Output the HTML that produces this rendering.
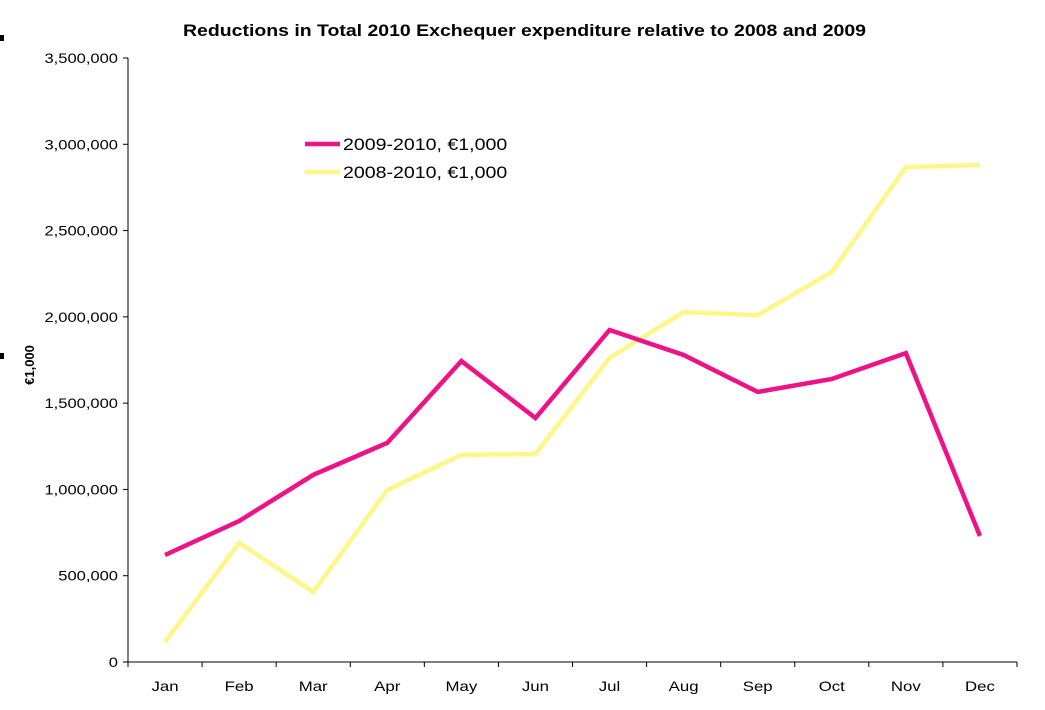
<!DOCTYPE html>
<html><head><meta charset="utf-8"><style>
html,body{margin:0;padding:0;background:#fff;}
svg{display:block;font-family:"Liberation Sans",Arial,sans-serif;}
</style></head><body>
<svg id="chart" width="1045" height="710" viewBox="0 0 1045 710" xmlns="http://www.w3.org/2000/svg">
<rect x="0" y="35" width="4" height="6" fill="#000"/>
<rect x="0" y="353" width="4" height="6" fill="#000"/>
<text x="183" y="36" font-size="17" font-weight="bold" textLength="683" lengthAdjust="spacingAndGlyphs">Reductions in Total 2010 Exchequer expenditure relative to 2008 and 2009</text>
<text transform="translate(34,365) rotate(-90)" text-anchor="middle" font-size="13" font-weight="bold">€1,000</text>
<g id="axes"></g>
<g id="series"></g>
<g>
<line x1="305" y1="144" x2="340" y2="144" stroke="#ee1188" stroke-width="4.5"/>
<text class="stretch" data-f="1.15" x="343" y="150" font-size="17">2009-2010, €1,000</text>
<line x1="305" y1="172" x2="340" y2="172" stroke="#fff68a" stroke-width="4.5"/>
<text class="stretch" data-f="1.15" x="343" y="178" font-size="17">2008-2010, €1,000</text>
</g>
</svg>
<script>
const categories=["Jan","Feb","Mar","Apr","May","Jun","Jul","Aug","Sep","Oct","Nov","Dec"];
const series2009=[620000,817000,1084000,1270000,1744000,1414000,1924000,1779000,1565000,1640000,1790000,730000];
const series2008=[116000,690000,406000,997000,1200000,1205000,1762000,2028000,2010000,2260000,2868000,2880000];
const yTicks=[0,500000,1000000,1500000,2000000,2500000,3000000,3500000];
const yTickLabels=["0","500,000","1,000,000","1,500,000","2,000,000","2,500,000","3,000,000","3,500,000"];
const NS="http://www.w3.org/2000/svg";
const L=128,R=1017,T=58,B=662,YMAX=3500000;
const bw=(R-L)/categories.length;
const xs=i=>L+bw*(i+0.5);
const ys=v=>B-(v/YMAX)*(B-T);
function mk(tag,attrs,parent){const e=document.createElementNS(NS,tag);for(const k in attrs)e.setAttribute(k,attrs[k]);parent.appendChild(e);return e;}
const ax=document.getElementById('axes');
let e=mk('line',{x1:L,y1:T,x2:L,y2:B,stroke:'#000','stroke-width':1},ax);


e=mk('line',{x1:L,y1:B,x2:R,y2:B,stroke:'#000','stroke-width':1},ax);


yTicks.forEach((v,i)=>{
  const y=ys(v);
  let t=mk('line',{x1:L-5,y1:y,x2:L,y2:y,stroke:'#000'},ax);
  
  
  let tx=mk('text',{x:L-10,y:y+5,'text-anchor':'end','font-size':14,'class':'stretch','data-f':1.18},ax);
  tx.textContent=yTickLabels[i];
  
  
});
for(let i=0;i<=categories.length;i++){
  let t=mk('line',{x1:L+bw*i,y1:B,x2:L+bw*i,y2:B+5,stroke:'#000'},ax);
  
  
}
categories.forEach((c,i)=>{
  let tx=mk('text',{x:xs(i),y:B+29,'text-anchor':'middle','font-size':14,'class':'stretch','data-f':1.2},ax);
  tx.textContent=c;
  
  
});
const sg=document.getElementById('series');
function line(data,color,name){
  const p=mk('polyline',{points:data.map((v,i)=>xs(i)+','+ys(v)).join(' '),fill:'none',stroke:color,'stroke-width':4.5,'stroke-linejoin':'miter'},sg);
  
  
}
line(series2008,'#fff68a','line-2008-2010');
line(series2009,'#ee1188','line-2009-2010');
document.querySelectorAll('text.stretch').forEach(t=>{
  const w=t.getComputedTextLength();
  t.setAttribute('textLength',(w*parseFloat(t.getAttribute('data-f'))).toFixed(1));
  t.setAttribute('lengthAdjust','spacingAndGlyphs');
});
</script>
</body></html>
